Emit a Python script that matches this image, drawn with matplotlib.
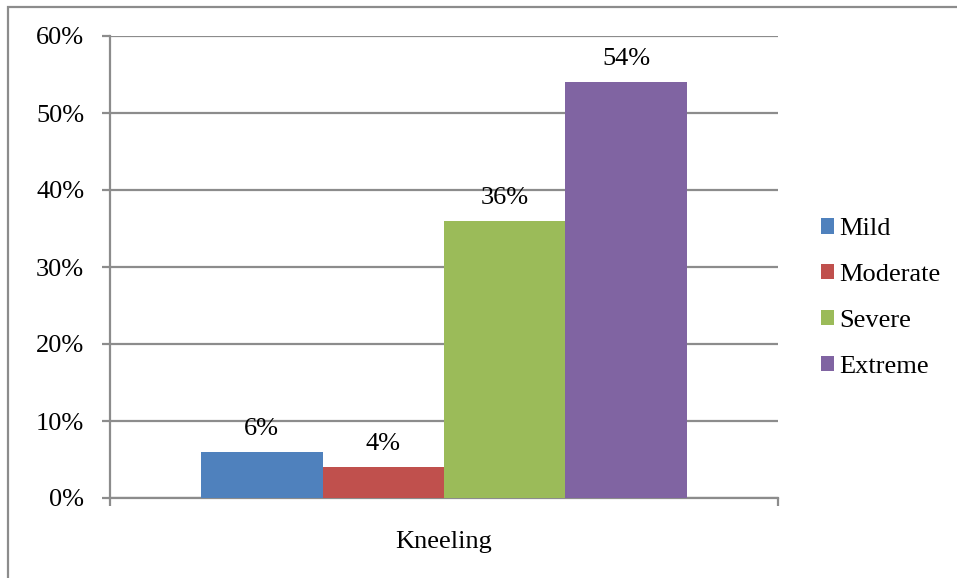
import matplotlib
matplotlib.use("Agg")
import matplotlib.pyplot as plt
from matplotlib.patches import Rectangle
from matplotlib.ticker import FuncFormatter, FixedLocator

# Data
category = ["Kneeling"]
series = ["Mild", "Moderate", "Severe", "Extreme"]
values = [0.06, 0.04, 0.36, 0.54]
colors = ["#4F81BD", "#C0504D", "#9BBB59", "#8064A2"]
y_ticks = [0.0, 0.1, 0.2, 0.3, 0.4, 0.5, 0.6]

plt.rcParams["font.family"] = ["Liberation Serif", "DejaVu Serif"]
FS = 19
GRID = "#8C8C8C"

fig = plt.figure(figsize=(9.57, 5.78), dpi=100)
ax = fig.add_axes([110 / 957, 1 - 498 / 578, (778 - 110) / 957, (498 - 36) / 578])

# Outer chart frame
fig.patches.append(Rectangle((8 / 957, -0.1), 1.2, 1 - 7 / 578 + 0.1,
                             transform=fig.transFigure, fill=False,
                             edgecolor=GRID, linewidth=1.6, zorder=0))

# Clustered bars: four series, 150% gap width
n = len(series)
width = 1.0 / (n + 1.5)
for i, (name, val, col) in enumerate(zip(series, values, colors)):
    x = (i - (n - 1) / 2) * width
    ax.bar(x, val, width=width, color=col, label=name, zorder=3)
    ax.annotate(f"{val * 100:.0f}%", xy=(x, val), xytext=(0, 16.5),
                textcoords="offset points", ha="center", va="center",
                fontsize=FS, color="black", zorder=4)

ax.set_xlim(-0.5, 0.5)
ax.set_ylim(0, 0.6)

ax.yaxis.set_major_locator(FixedLocator(y_ticks))
ax.yaxis.set_major_formatter(FuncFormatter(lambda v, p: f"{v * 100:.0f}%"))
ax.yaxis.grid(True, color=GRID, linewidth=1.6, zorder=1)
ax.set_axisbelow(True)

ax.set_xticks([0])
ax.set_xticklabels(category)
ax.set_xticks([-0.5, 0.5], minor=True)
ax.tick_params(axis="x", which="major", length=0, pad=24, labelsize=FS)
ax.tick_params(axis="x", which="minor", length=6, width=1.6, color=GRID, direction="out")
ax.tick_params(axis="y", length=5.5, width=1.6, color=GRID, direction="out",
               pad=13, labelsize=FS)

for s in ["top", "right"]:
    ax.spines[s].set_visible(False)
for s in ["left", "bottom"]:
    ax.spines[s].set_color(GRID)
    ax.spines[s].set_linewidth(1.6)

ax.legend(loc="center left", bbox_to_anchor=(821 / 957, 1 - 298 / 578),
          bbox_transform=fig.transFigure, frameon=False, fontsize=FS,
          handlelength=0.5, handleheight=0.5, handletextpad=0.2,
          labelspacing=0.9, borderpad=0, borderaxespad=0)

fig.savefig("out.png", dpi=100)
